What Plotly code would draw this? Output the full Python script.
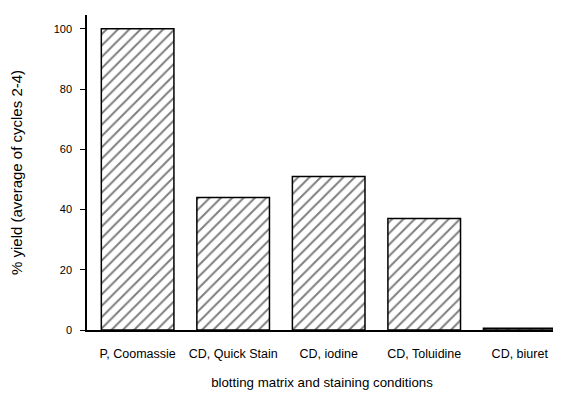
import plotly.graph_objects as go

categories = ["P, Coomassie", "CD, Quick Stain", "CD, iodine", "CD, Toluidine", "CD, biuret"]
yields = [100, 44, 51, 37, 0.6]
y_ticks = [0, 20, 40, 60, 80, 100]

fig = go.Figure(go.Bar(
    x=categories, y=yields,
    marker=dict(color="white", line=dict(color="black", width=1.5),
                pattern=dict(shape="/", size=8, solidity=0.25, fgcolor="black", bgcolor="white")),
    width=0.76,
))

font = "Liberation Sans, Arial, sans-serif"
# page body has an 8px default margin, so the figure is sized to fill the window from there
fig.update_layout(
    width=553, height=401,
    margin=dict(l=79, r=4, t=7, b=79),
    plot_bgcolor="white", paper_bgcolor="white",
    showlegend=False,
    font=dict(family=font, color="black", size=11),
)
fig.update_xaxes(
    range=[-0.53, 4.39], showline=True, linecolor="black", linewidth=1.5,
    ticks="", showgrid=False, ticklabelstandoff=11, automargin=False,
    tickfont=dict(size=12.5),
    title=dict(text="blotting matrix and staining conditions", font=dict(size=13.3), standoff=18),
)
fig.update_yaxes(
    range=[0, 104.6], tickvals=y_ticks, showline=True, linecolor="black", linewidth=1.5,
    ticks="outside", ticklen=5, tickwidth=1.2, tickcolor="black", showgrid=False, zeroline=False,
    tickfont=dict(size=11), automargin=False, ticklabelstandoff=6,
    title=dict(text="% yield (average of cycles 2-4)", font=dict(size=15), standoff=27),
)
fig.write_html("out.html")
